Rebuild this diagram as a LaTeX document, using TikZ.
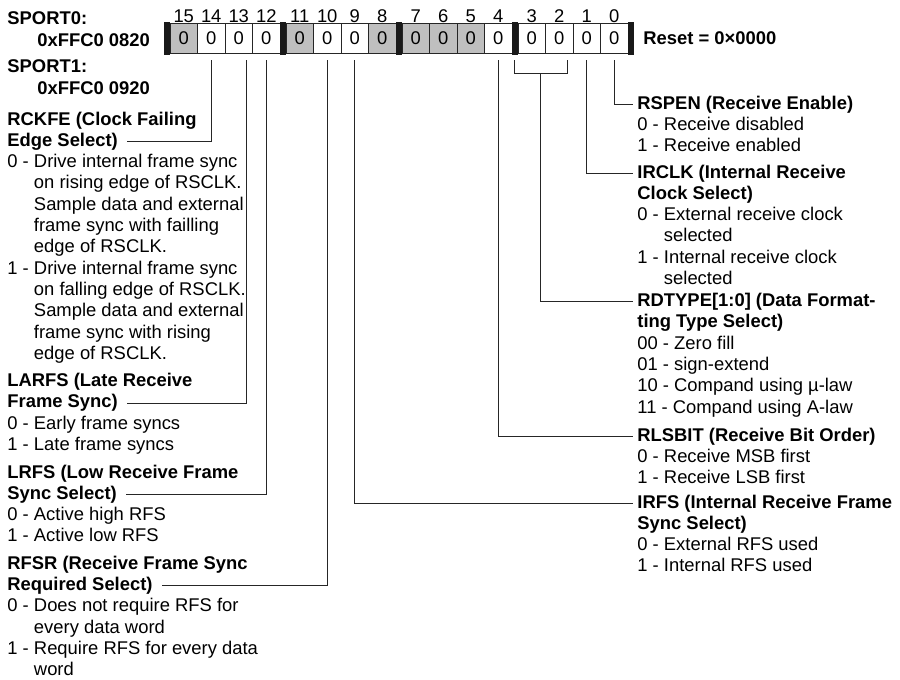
\documentclass[tikz,border=0pt]{standalone}
\usepackage{fontspec}
\setmainfont{Liberation Sans}
\usetikzlibrary{positioning}

\newcommand{\contd}{\hphantom{0 -}\ }
\newcommand{\fieldlist}[1]{\begin{tabular}[t]{@{}l@{}}#1\end{tabular}}

\tikzstyle{bitcell} = [rectangle, draw=black!85, line width=0.5pt, minimum width=13.75pt, minimum height=15pt, inner sep=0pt, outer sep=0pt, text centered, label distance=2.3pt]
\tikzstyle{shaded} = [bitcell, fill=black!25]
\tikzstyle{nibblebar} = [rectangle, fill=black!90, minimum width=3pt, minimum height=16.5pt, inner sep=0pt, outer sep=0pt]
\tikzstyle{title} = [anchor=base west, inner sep=0pt, font=\bfseries\fontsize{9.2}{10.65}\selectfont]
\tikzstyle{values} = [anchor=base west, inner sep=0pt]
\tikzstyle{wire} = [line width=0.5pt, draw=black!85, shorten <=3.5pt]

\begin{document}
\begin{tikzpicture}[x=0.5pt, y=-0.5pt, every node/.style={font=\fontsize{9.2}{10.65}\selectfont}, every label/.style={inner sep=0pt}]
\useasboundingbox (0,0) rectangle (900,680);

% register addresses
\node (sport0) [title] at (7,25) {SPORT0:};
\node (addr0) [title] at (37,46.7) {0xFFC0 0820};
\node (sport1) [title] at (7,72.7) {SPORT1:};
\node (addr1) [title] at (37,94.3) {0xFFC0 0920};

% the 16 bits, MSB on the left
\node (sep4) [nibblebar] at (167,38.3) {};
\node (b15) [shaded, right=0pt of sep4, label=above:15] {0};
\node (b14) [bitcell, right=0pt of b15, label=above:14] {0};
\node (b13) [bitcell, right=0pt of b14, label=above:13] {0};
\node (b12) [bitcell, right=0pt of b13, label=above:12] {0};
\node (sep3) [nibblebar, right=0pt of b12] {};
\node (b11) [shaded, right=0pt of sep3, label=above:11] {0};
\node (b10) [bitcell, right=0pt of b11, label=above:10] {0};
\node (b9) [bitcell, right=0pt of b10, label=above:9] {0};
\node (b8) [shaded, right=0pt of b9, label=above:8] {0};
\node (sep2) [nibblebar, right=0pt of b8] {};
\node (b7) [shaded, right=0pt of sep2, label=above:7] {0};
\node (b6) [shaded, right=0pt of b7, label=above:6] {0};
\node (b5) [shaded, right=0pt of b6, label=above:5] {0};
\node (b4) [bitcell, right=0pt of b5, label=above:4] {0};
\node (sep1) [nibblebar, right=0pt of b4] {};
\node (b3) [bitcell, right=0pt of sep1, label=above:3] {0};
\node (b2) [bitcell, right=0pt of b3, label=above:2] {0};
\node (b1) [bitcell, right=0pt of b2, label=above:1] {0};
\node (b0) [bitcell, right=0pt of b1, label=above:0] {0};
\node (sep0) [nibblebar, right=0pt of b0] {};
\node (reset) [title, right=4.5pt of sep0] {Reset = 0×0000};

% left column
\node (rckfe) [title] at (7,125) {RCKFE (Clock Failing};
\node (rckfe2) [title] at ([yshift=-10.65pt]rckfe.base west) {Edge Select)};
\node (rckfev) [values] at ([yshift=-10.65pt]rckfe2.base west)
{\fieldlist{0 - Drive internal frame sync\\
\contd on rising edge of RSCLK.\\
\contd Sample data and external\\
\contd frame sync with failling\\
\contd edge of RSCLK.\\
1 - Drive internal frame sync\\
\contd on falling edge of RSCLK.\\
\contd Sample data and external\\
\contd frame sync with rising\\
\contd edge of RSCLK.}};

\node (larfs) [title] at (7,386.5) {LARFS (Late Receive};
\node (larfs2) [title] at ([yshift=-10.65pt]larfs.base west) {Frame Sync)};
\node (larfsv) [values] at ([yshift=-10.65pt]larfs2.base west)
{\fieldlist{0 - Early frame syncs\\1 - Late frame syncs}};

\node (lrfs) [title] at (7,478) {LRFS (Low Receive Frame};
\node (lrfs2) [title] at ([yshift=-10.65pt]lrfs.base west) {Sync Select)};
\node (lrfsv) [values] at ([yshift=-10.65pt]lrfs2.base west)
{\fieldlist{0 - Active high RFS\\1 - Active low RFS}};

\node (rfsr) [title] at (7,569.3) {RFSR (Receive Frame Sync};
\node (rfsr2) [title] at ([yshift=-10.65pt]rfsr.base west) {Required Select)};
\node (rfsrv) [values] at ([yshift=-10.65pt]rfsr2.base west)
{\fieldlist{0 - Does not require RFS for\\
\contd every data word\\
1 - Require RFS for every data\\
\contd word}};

% right column
\node (rspen) [title] at (637,109) {RSPEN (Receive Enable)};
\node (rspenv) [values] at ([yshift=-10.65pt]rspen.base west)
{\fieldlist{0 - Receive disabled\\1 - Receive enabled}};

\node (irclk) [title] at (637,178) {IRCLK (Internal Receive};
\node (irclkv) [values] at ([yshift=-10.65pt]irclk.base west)
{\fieldlist{\textbf{Clock Select)}\\
0 - External receive clock\\
\contd selected\\
1 - Internal receive clock\\
\contd selected}};

\node (rdtype) [title] at (637,306.5) {RDTYPE[1:0] (Data Format-};
\node (rdtypev) [values] at ([yshift=-10.65pt]rdtype.base west)
{\fieldlist{\textbf{ting Type Select)}\\
00 - Zero fill\\
01 - sign-extend\\
10 - Compand using µ-law\\
11 - Compand using A-law}};

\node (rlsbit) [title] at (637,441) {RLSBIT (Receive Bit Order)};
\node (rlsbitv) [values] at ([yshift=-10.65pt]rlsbit.base west)
{\fieldlist{0 - Receive MSB first\\1 - Receive LSB first}};

\node (irfs) [title] at (637,508) {IRFS (Internal Receive Frame};
\node (irfsv) [values] at ([yshift=-10.65pt]irfs.base west)
{\fieldlist{\textbf{Sync Select)}\\
0 - External RFS used\\
1 - Internal RFS used}};

% bit to field leaders
\draw [wire, shorten >=4.5pt] (b14.south) |- (rckfe2.east);
\draw [wire, shorten >=4.5pt] ([xshift=4pt]b13.south) |- (larfs2.east);
\draw [wire, shorten >=4.5pt] (b12.south) |- (lrfs2.east);
\draw [wire, shorten >=4.5pt] (b10.south) |- (rfsr2.east);
\draw [wire, shorten >=2pt] (b9.south) |- (irfs.west);
\draw [wire, shorten >=2pt] (b4.south) |- (rlsbit.west);
\draw [wire, shorten <=0pt] ([shift={(-2pt,-3.5pt)}]b3.south west) -- ++(0,-6.5pt) -| ([shift={(-3pt,-3.5pt)}]b2.south east);
\coordinate (fork) at ([shift={(-2.5pt,-10pt)}]b3.south east);
\draw [wire, shorten <=0pt, shorten >=2pt] (fork) |- (rdtype.west);
\draw [wire, shorten >=2pt] (b1.south) |- (irclk.west);
\draw [wire, shorten >=2pt] (b0.south) |- (rspen.west);
\end{tikzpicture}
\end{document}
